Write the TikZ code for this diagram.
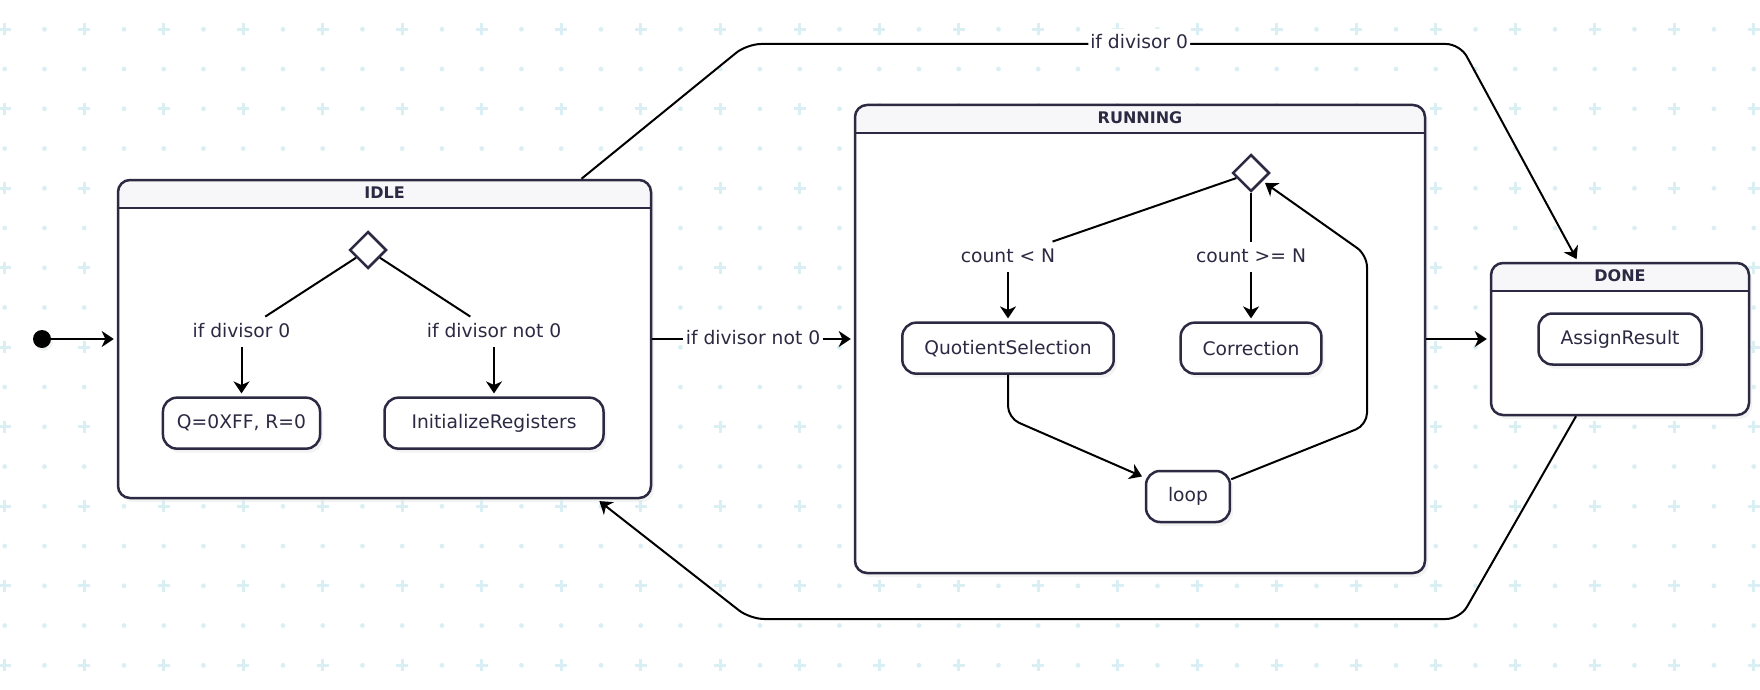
\documentclass[tikz,border=0pt]{standalone}
\usepackage{fontspec}
\setmainfont{DejaVu Sans}
\usetikzlibrary{arrows.meta, shapes.geometric, positioning, calc, shadows}
\definecolor{stateline}{RGB}{44,42,66}
\definecolor{headfill}{RGB}{247,247,250}
\definecolor{gridcyan}{RGB}{218,239,243}

\begin{document}
\begin{tikzpicture}[
    x=0.5pt, y=-0.5pt,
    every node/.style={font=\fontsize{9.35}{11}\selectfont, text=stateline},
    composite/.style={rectangle, draw=stateline, line width=1.25pt, rounded corners=6pt, fill=white, inner sep=0pt,
        drop shadow={shadow xshift=1.5pt, shadow yshift=-2pt, fill=black!9},
        path picture={
            \fill[headfill, sharp corners] (path picture bounding box.north west) rectangle ([yshift=-14pt]path picture bounding box.north east);
            \draw[stateline, line width=1.25pt, sharp corners] ([yshift=-14pt]path picture bounding box.north west) -- ([yshift=-14pt]path picture bounding box.north east);
        }},
    headtitle/.style={font=\fontsize{8}{9}\selectfont\bfseries},
    leaf/.style={rectangle, rounded corners=7pt, draw=stateline, line width=1.25pt, fill=white, minimum height=25.5pt, inner xsep=11pt,
        drop shadow={shadow xshift=1.5pt, shadow yshift=-2pt, fill=black!9}},
    choice/.style={diamond, draw=stateline, line width=1.25pt, fill=white, minimum size=18.5pt, inner sep=0pt},
    edgelabel/.style={fill=white, inner xsep=1pt, inner ysep=2.5pt, text height=0.75em, text depth=0.25em},
    link/.style={line width=1pt},
    arrow/.style={link, -{Stealth[length=6pt, width=8pt, inset=1.8pt]}, shorten >=1.5pt},
    initdot/.style={circle, fill=black, minimum size=9pt, inner sep=0pt,
        drop shadow={shadow xshift=1pt, shadow yshift=-1.5pt, fill=black!9}}
]
    % background and grid
    \fill[white] (0,0) rectangle (1760,690);
    \useasboundingbox (0,0) rectangle (1760,690);
    \foreach \i in {0,...,44}{
        \foreach \j in {0,...,16}{
            \pgfmathtruncatemacro\kind{isodd(\i)+isodd(\j)}
            \ifnum\kind=0
                \draw[gridcyan, line width=1.5pt] (4.7+39.75*\i-6, 29.3+39.75*\j) -- ++(12,0)
                    (4.7+39.75*\i, 29.3+39.75*\j-6) -- ++(0,12);
            \else
                \fill[gridcyan] (4.7+39.75*\i, 29.3+39.75*\j) circle (1.2pt);
            \fi
        }
    }

    % composite states
    \node[composite, minimum width=266.5pt, minimum height=159pt] (idle) at (384.5,339) {};
    \node[composite, minimum width=285pt, minimum height=234pt] (running) at (1140,339) {};
    \node[composite, minimum width=129pt, minimum height=76pt] (done) at (1620,339) {};
    \node[headtitle] (idletitle) at ($(idle.north)+(0,14)$) {IDLE};
    \node[headtitle] (runningtitle) at ($(running.north)+(0,14)$) {RUNNING};
    \node[headtitle] (donetitle) at ($(done.north)+(0,14)$) {DONE};

    % initial state
    \node[initdot] (start) at (42,339) {};
    \draw[arrow] (start) -- (idle);

    % inside IDLE
    \node[choice] (idlechoice) at (368,250) {};
    \node[edgelabel] (ifzero) at (241.5,332) {if divisor 0};
    \node[edgelabel] (ifnotzero) at (494,332) {if divisor not 0};
    \node[leaf, inner xsep=7pt, below=24.5pt of ifzero] (setq) {Q=0XFF, R=0};
    \node[leaf, inner xsep=13.5pt, below=24.5pt of ifnotzero] (initregs) {InitializeRegisters};
    \draw[link] (idlechoice) -- (ifzero);
    \draw[arrow] (ifzero) -- (setq);
    \draw[link] (idlechoice) -- (ifnotzero);
    \draw[arrow] (ifnotzero) -- (initregs);

    % inside RUNNING
    \node[choice] (runchoice) at (1251,173) {};
    \node[edgelabel] (lessn) at (1008,257) {count < N};
    \node[edgelabel] (geqn) at (1251,257) {count >= N};
    \node[leaf, below=24.5pt of lessn] (qsel) {QuotientSelection};
    \node[leaf, below=24.5pt of geqn] (corr) {Correction};
    \node[leaf] (loopst) at (1188,496.5) {loop};
    \draw[link] (runchoice) -- (lessn);
    \draw[arrow] (lessn) -- (qsel);
    \draw[link] (runchoice) -- (geqn);
    \draw[arrow] (geqn) -- (corr);
    \draw[arrow, rounded corners=6pt] (qsel) -- (1008,418) -- (loopst);
    \draw[arrow, rounded corners=6pt] (loopst) -- (1367,425) -- (1367,255) -- (runchoice);

    % inside DONE
    \node[leaf] (assign) at (1620,339) {AssignResult};

    % transitions between states
    \node[edgelabel] (tonotzero) at (753,339) {if divisor not 0};
    \draw[link] (idle) -- (tonotzero);
    \draw[arrow] (tonotzero) -- (running);
    \draw[arrow] (running) -- (done);
    \draw[arrow, rounded corners=7pt] ($(idle.north)+(197,0)$) -- (747,44)
        -- node[edgelabel, pos=0.55] (topzero) {if divisor 0} (1460,44) -- ($(done.north)+(-42,0)$);
    \draw[arrow, rounded corners=7pt] ($(done.south)+(-44,0)$) -- (1460,619) -- (750,619) -- ($(idle.south)+(212.5,0)$);
\end{tikzpicture}
\end{document}
